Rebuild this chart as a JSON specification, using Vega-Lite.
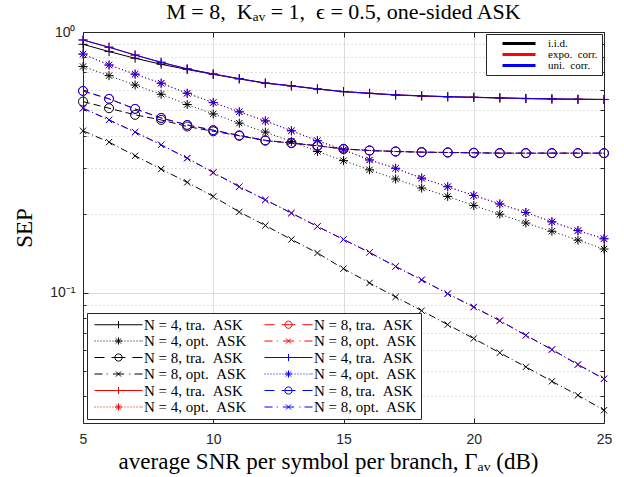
{
"$schema": "https://vega.github.io/schema/vega-lite/v6.json",
"width": 521, "height": 391,
"autosize": {"type": "none"},
"padding": {"left": 83, "top": 32, "right": 20, "bottom": 54},
"background": "white",
"title": {"text": "M = 8,\u2002Kₐᵥ = 1,\u2002ϵ = 0.5, one-sided ASK", "font": "Liberation Serif", "fontSize": 22, "fontWeight": "normal", "color": "#000000", "offset": 1, "anchor": "middle", "frame": "group"},
"config": {"view": {"stroke": null}},
"data": {"values": [
{"x":5,"y":0.897,"c":"i.i.d.","n":4,"t":"tra"},{"x":6,"y":0.841,"c":"i.i.d.","n":4,"t":"tra"},{"x":7,"y":0.793,"c":"i.i.d.","n":4,"t":"tra"},{"x":8,"y":0.752,"c":"i.i.d.","n":4,"t":"tra"},{"x":9,"y":0.718,"c":"i.i.d.","n":4,"t":"tra"},{"x":10,"y":0.688,"c":"i.i.d.","n":4,"t":"tra"},{"x":11,"y":0.661,"c":"i.i.d.","n":4,"t":"tra"},{"x":12,"y":0.636,"c":"i.i.d.","n":4,"t":"tra"},{"x":13,"y":0.621,"c":"i.i.d.","n":4,"t":"tra"},{"x":14,"y":0.604,"c":"i.i.d.","n":4,"t":"tra"},{"x":15,"y":0.590,"c":"i.i.d.","n":4,"t":"tra"},{"x":16,"y":0.581,"c":"i.i.d.","n":4,"t":"tra"},{"x":17,"y":0.573,"c":"i.i.d.","n":4,"t":"tra"},{"x":18,"y":0.568,"c":"i.i.d.","n":4,"t":"tra"},{"x":19,"y":0.564,"c":"i.i.d.","n":4,"t":"tra"},{"x":20,"y":0.561,"c":"i.i.d.","n":4,"t":"tra"},{"x":21,"y":0.558,"c":"i.i.d.","n":4,"t":"tra"},{"x":22,"y":0.555,"c":"i.i.d.","n":4,"t":"tra"},{"x":23,"y":0.553,"c":"i.i.d.","n":4,"t":"tra"},{"x":24,"y":0.552,"c":"i.i.d.","n":4,"t":"tra"},{"x":25,"y":0.551,"c":"i.i.d.","n":4,"t":"tra"},
{"x":5,"y":0.737,"c":"i.i.d.","n":4,"t":"opt"},{"x":6,"y":0.680,"c":"i.i.d.","n":4,"t":"opt"},{"x":7,"y":0.626,"c":"i.i.d.","n":4,"t":"opt"},{"x":8,"y":0.577,"c":"i.i.d.","n":4,"t":"opt"},{"x":9,"y":0.527,"c":"i.i.d.","n":4,"t":"opt"},{"x":10,"y":0.485,"c":"i.i.d.","n":4,"t":"opt"},{"x":11,"y":0.447,"c":"i.i.d.","n":4,"t":"opt"},{"x":12,"y":0.413,"c":"i.i.d.","n":4,"t":"opt"},{"x":13,"y":0.380,"c":"i.i.d.","n":4,"t":"opt"},{"x":14,"y":0.348,"c":"i.i.d.","n":4,"t":"opt"},{"x":15,"y":0.321,"c":"i.i.d.","n":4,"t":"opt"},{"x":16,"y":0.296,"c":"i.i.d.","n":4,"t":"opt"},{"x":17,"y":0.273,"c":"i.i.d.","n":4,"t":"opt"},{"x":18,"y":0.252,"c":"i.i.d.","n":4,"t":"opt"},{"x":19,"y":0.234,"c":"i.i.d.","n":4,"t":"opt"},{"x":20,"y":0.216,"c":"i.i.d.","n":4,"t":"opt"},{"x":21,"y":0.200,"c":"i.i.d.","n":4,"t":"opt"},{"x":22,"y":0.185,"c":"i.i.d.","n":4,"t":"opt"},{"x":23,"y":0.172,"c":"i.i.d.","n":4,"t":"opt"},{"x":24,"y":0.159,"c":"i.i.d.","n":4,"t":"opt"},{"x":25,"y":0.147,"c":"i.i.d.","n":4,"t":"opt"},
{"x":5,"y":0.541,"c":"i.i.d.","n":8,"t":"tra"},{"x":6,"y":0.510,"c":"i.i.d.","n":8,"t":"tra"},{"x":7,"y":0.481,"c":"i.i.d.","n":8,"t":"tra"},{"x":8,"y":0.460,"c":"i.i.d.","n":8,"t":"tra"},{"x":9,"y":0.434,"c":"i.i.d.","n":8,"t":"tra"},{"x":10,"y":0.416,"c":"i.i.d.","n":8,"t":"tra"},{"x":11,"y":0.400,"c":"i.i.d.","n":8,"t":"tra"},{"x":12,"y":0.383,"c":"i.i.d.","n":8,"t":"tra"},{"x":13,"y":0.375,"c":"i.i.d.","n":8,"t":"tra"},{"x":14,"y":0.366,"c":"i.i.d.","n":8,"t":"tra"},{"x":15,"y":0.356,"c":"i.i.d.","n":8,"t":"tra"},{"x":16,"y":0.351,"c":"i.i.d.","n":8,"t":"tra"},{"x":17,"y":0.348,"c":"i.i.d.","n":8,"t":"tra"},{"x":18,"y":0.346,"c":"i.i.d.","n":8,"t":"tra"},{"x":19,"y":0.345,"c":"i.i.d.","n":8,"t":"tra"},{"x":20,"y":0.344,"c":"i.i.d.","n":8,"t":"tra"},{"x":21,"y":0.343,"c":"i.i.d.","n":8,"t":"tra"},{"x":22,"y":0.343,"c":"i.i.d.","n":8,"t":"tra"},{"x":23,"y":0.343,"c":"i.i.d.","n":8,"t":"tra"},{"x":24,"y":0.343,"c":"i.i.d.","n":8,"t":"tra"},{"x":25,"y":0.343,"c":"i.i.d.","n":8,"t":"tra"},
{"x":5,"y":0.418,"c":"i.i.d.","n":8,"t":"opt"},{"x":6,"y":0.378,"c":"i.i.d.","n":8,"t":"opt"},{"x":7,"y":0.335,"c":"i.i.d.","n":8,"t":"opt"},{"x":8,"y":0.298,"c":"i.i.d.","n":8,"t":"opt"},{"x":9,"y":0.265,"c":"i.i.d.","n":8,"t":"opt"},{"x":10,"y":0.234,"c":"i.i.d.","n":8,"t":"opt"},{"x":11,"y":0.204,"c":"i.i.d.","n":8,"t":"opt"},{"x":12,"y":0.181,"c":"i.i.d.","n":8,"t":"opt"},{"x":13,"y":0.160,"c":"i.i.d.","n":8,"t":"opt"},{"x":14,"y":0.142,"c":"i.i.d.","n":8,"t":"opt"},{"x":15,"y":0.1236,"c":"i.i.d.","n":8,"t":"opt"},{"x":16,"y":0.109,"c":"i.i.d.","n":8,"t":"opt"},{"x":17,"y":0.0963,"c":"i.i.d.","n":8,"t":"opt"},{"x":18,"y":0.0853,"c":"i.i.d.","n":8,"t":"opt"},{"x":19,"y":0.0754,"c":"i.i.d.","n":8,"t":"opt"},{"x":20,"y":0.0667,"c":"i.i.d.","n":8,"t":"opt"},{"x":21,"y":0.0588,"c":"i.i.d.","n":8,"t":"opt"},{"x":22,"y":0.0519,"c":"i.i.d.","n":8,"t":"opt"},{"x":23,"y":0.0457,"c":"i.i.d.","n":8,"t":"opt"},{"x":24,"y":0.0404,"c":"i.i.d.","n":8,"t":"opt"},{"x":25,"y":0.0354,"c":"i.i.d.","n":8,"t":"opt"},
{"x":5,"y":0.932,"c":"expo. corr.","n":4,"t":"tra"},{"x":6,"y":0.874,"c":"expo. corr.","n":4,"t":"tra"},{"x":7,"y":0.816,"c":"expo. corr.","n":4,"t":"tra"},{"x":8,"y":0.765,"c":"expo. corr.","n":4,"t":"tra"},{"x":9,"y":0.722,"c":"expo. corr.","n":4,"t":"tra"},{"x":10,"y":0.690,"c":"expo. corr.","n":4,"t":"tra"},{"x":11,"y":0.662,"c":"expo. corr.","n":4,"t":"tra"},{"x":12,"y":0.637,"c":"expo. corr.","n":4,"t":"tra"},{"x":13,"y":0.622,"c":"expo. corr.","n":4,"t":"tra"},{"x":14,"y":0.605,"c":"expo. corr.","n":4,"t":"tra"},{"x":15,"y":0.591,"c":"expo. corr.","n":4,"t":"tra"},{"x":16,"y":0.582,"c":"expo. corr.","n":4,"t":"tra"},{"x":17,"y":0.574,"c":"expo. corr.","n":4,"t":"tra"},{"x":18,"y":0.569,"c":"expo. corr.","n":4,"t":"tra"},{"x":19,"y":0.565,"c":"expo. corr.","n":4,"t":"tra"},{"x":20,"y":0.562,"c":"expo. corr.","n":4,"t":"tra"},{"x":21,"y":0.559,"c":"expo. corr.","n":4,"t":"tra"},{"x":22,"y":0.556,"c":"expo. corr.","n":4,"t":"tra"},{"x":23,"y":0.554,"c":"expo. corr.","n":4,"t":"tra"},{"x":24,"y":0.552,"c":"expo. corr.","n":4,"t":"tra"},{"x":25,"y":0.551,"c":"expo. corr.","n":4,"t":"tra"},
{"x":5,"y":0.823,"c":"expo. corr.","n":4,"t":"opt"},{"x":6,"y":0.747,"c":"expo. corr.","n":4,"t":"opt"},{"x":7,"y":0.689,"c":"expo. corr.","n":4,"t":"opt"},{"x":8,"y":0.636,"c":"expo. corr.","n":4,"t":"opt"},{"x":9,"y":0.582,"c":"expo. corr.","n":4,"t":"opt"},{"x":10,"y":0.536,"c":"expo. corr.","n":4,"t":"opt"},{"x":11,"y":0.494,"c":"expo. corr.","n":4,"t":"opt"},{"x":12,"y":0.456,"c":"expo. corr.","n":4,"t":"opt"},{"x":13,"y":0.418,"c":"expo. corr.","n":4,"t":"opt"},{"x":14,"y":0.383,"c":"expo. corr.","n":4,"t":"opt"},{"x":15,"y":0.353,"c":"expo. corr.","n":4,"t":"opt"},{"x":16,"y":0.323,"c":"expo. corr.","n":4,"t":"opt"},{"x":17,"y":0.300,"c":"expo. corr.","n":4,"t":"opt"},{"x":18,"y":0.275,"c":"expo. corr.","n":4,"t":"opt"},{"x":19,"y":0.255,"c":"expo. corr.","n":4,"t":"opt"},{"x":20,"y":0.236,"c":"expo. corr.","n":4,"t":"opt"},{"x":21,"y":0.219,"c":"expo. corr.","n":4,"t":"opt"},{"x":22,"y":0.203,"c":"expo. corr.","n":4,"t":"opt"},{"x":23,"y":0.187,"c":"expo. corr.","n":4,"t":"opt"},{"x":24,"y":0.173,"c":"expo. corr.","n":4,"t":"opt"},{"x":25,"y":0.161,"c":"expo. corr.","n":4,"t":"opt"},
{"x":5,"y":0.594,"c":"expo. corr.","n":8,"t":"tra"},{"x":6,"y":0.554,"c":"expo. corr.","n":8,"t":"tra"},{"x":7,"y":0.507,"c":"expo. corr.","n":8,"t":"tra"},{"x":8,"y":0.468,"c":"expo. corr.","n":8,"t":"tra"},{"x":9,"y":0.440,"c":"expo. corr.","n":8,"t":"tra"},{"x":10,"y":0.420,"c":"expo. corr.","n":8,"t":"tra"},{"x":11,"y":0.401,"c":"expo. corr.","n":8,"t":"tra"},{"x":12,"y":0.384,"c":"expo. corr.","n":8,"t":"tra"},{"x":13,"y":0.375,"c":"expo. corr.","n":8,"t":"tra"},{"x":14,"y":0.366,"c":"expo. corr.","n":8,"t":"tra"},{"x":15,"y":0.356,"c":"expo. corr.","n":8,"t":"tra"},{"x":16,"y":0.351,"c":"expo. corr.","n":8,"t":"tra"},{"x":17,"y":0.348,"c":"expo. corr.","n":8,"t":"tra"},{"x":18,"y":0.346,"c":"expo. corr.","n":8,"t":"tra"},{"x":19,"y":0.345,"c":"expo. corr.","n":8,"t":"tra"},{"x":20,"y":0.344,"c":"expo. corr.","n":8,"t":"tra"},{"x":21,"y":0.343,"c":"expo. corr.","n":8,"t":"tra"},{"x":22,"y":0.343,"c":"expo. corr.","n":8,"t":"tra"},{"x":23,"y":0.343,"c":"expo. corr.","n":8,"t":"tra"},{"x":24,"y":0.343,"c":"expo. corr.","n":8,"t":"tra"},{"x":25,"y":0.343,"c":"expo. corr.","n":8,"t":"tra"},
{"x":5,"y":0.510,"c":"expo. corr.","n":8,"t":"opt"},{"x":6,"y":0.460,"c":"expo. corr.","n":8,"t":"opt"},{"x":7,"y":0.413,"c":"expo. corr.","n":8,"t":"opt"},{"x":8,"y":0.369,"c":"expo. corr.","n":8,"t":"opt"},{"x":9,"y":0.328,"c":"expo. corr.","n":8,"t":"opt"},{"x":10,"y":0.289,"c":"expo. corr.","n":8,"t":"opt"},{"x":11,"y":0.255,"c":"expo. corr.","n":8,"t":"opt"},{"x":12,"y":0.227,"c":"expo. corr.","n":8,"t":"opt"},{"x":13,"y":0.202,"c":"expo. corr.","n":8,"t":"opt"},{"x":14,"y":0.1795,"c":"expo. corr.","n":8,"t":"opt"},{"x":15,"y":0.160,"c":"expo. corr.","n":8,"t":"opt"},{"x":16,"y":0.1427,"c":"expo. corr.","n":8,"t":"opt"},{"x":17,"y":0.126,"c":"expo. corr.","n":8,"t":"opt"},{"x":18,"y":0.112,"c":"expo. corr.","n":8,"t":"opt"},{"x":19,"y":0.0991,"c":"expo. corr.","n":8,"t":"opt"},{"x":20,"y":0.0881,"c":"expo. corr.","n":8,"t":"opt"},{"x":21,"y":0.0781,"c":"expo. corr.","n":8,"t":"opt"},{"x":22,"y":0.0686,"c":"expo. corr.","n":8,"t":"opt"},{"x":23,"y":0.0605,"c":"expo. corr.","n":8,"t":"opt"},{"x":24,"y":0.053,"c":"expo. corr.","n":8,"t":"opt"},{"x":25,"y":0.0467,"c":"expo. corr.","n":8,"t":"opt"},
{"x":5,"y":0.932,"c":"uni. corr.","n":4,"t":"tra"},{"x":6,"y":0.874,"c":"uni. corr.","n":4,"t":"tra"},{"x":7,"y":0.816,"c":"uni. corr.","n":4,"t":"tra"},{"x":8,"y":0.765,"c":"uni. corr.","n":4,"t":"tra"},{"x":9,"y":0.722,"c":"uni. corr.","n":4,"t":"tra"},{"x":10,"y":0.690,"c":"uni. corr.","n":4,"t":"tra"},{"x":11,"y":0.662,"c":"uni. corr.","n":4,"t":"tra"},{"x":12,"y":0.637,"c":"uni. corr.","n":4,"t":"tra"},{"x":13,"y":0.622,"c":"uni. corr.","n":4,"t":"tra"},{"x":14,"y":0.605,"c":"uni. corr.","n":4,"t":"tra"},{"x":15,"y":0.591,"c":"uni. corr.","n":4,"t":"tra"},{"x":16,"y":0.582,"c":"uni. corr.","n":4,"t":"tra"},{"x":17,"y":0.574,"c":"uni. corr.","n":4,"t":"tra"},{"x":18,"y":0.569,"c":"uni. corr.","n":4,"t":"tra"},{"x":19,"y":0.565,"c":"uni. corr.","n":4,"t":"tra"},{"x":20,"y":0.562,"c":"uni. corr.","n":4,"t":"tra"},{"x":21,"y":0.559,"c":"uni. corr.","n":4,"t":"tra"},{"x":22,"y":0.556,"c":"uni. corr.","n":4,"t":"tra"},{"x":23,"y":0.554,"c":"uni. corr.","n":4,"t":"tra"},{"x":24,"y":0.552,"c":"uni. corr.","n":4,"t":"tra"},{"x":25,"y":0.551,"c":"uni. corr.","n":4,"t":"tra"},
{"x":5,"y":0.823,"c":"uni. corr.","n":4,"t":"opt"},{"x":6,"y":0.747,"c":"uni. corr.","n":4,"t":"opt"},{"x":7,"y":0.689,"c":"uni. corr.","n":4,"t":"opt"},{"x":8,"y":0.636,"c":"uni. corr.","n":4,"t":"opt"},{"x":9,"y":0.582,"c":"uni. corr.","n":4,"t":"opt"},{"x":10,"y":0.536,"c":"uni. corr.","n":4,"t":"opt"},{"x":11,"y":0.494,"c":"uni. corr.","n":4,"t":"opt"},{"x":12,"y":0.456,"c":"uni. corr.","n":4,"t":"opt"},{"x":13,"y":0.418,"c":"uni. corr.","n":4,"t":"opt"},{"x":14,"y":0.383,"c":"uni. corr.","n":4,"t":"opt"},{"x":15,"y":0.353,"c":"uni. corr.","n":4,"t":"opt"},{"x":16,"y":0.323,"c":"uni. corr.","n":4,"t":"opt"},{"x":17,"y":0.300,"c":"uni. corr.","n":4,"t":"opt"},{"x":18,"y":0.275,"c":"uni. corr.","n":4,"t":"opt"},{"x":19,"y":0.255,"c":"uni. corr.","n":4,"t":"opt"},{"x":20,"y":0.236,"c":"uni. corr.","n":4,"t":"opt"},{"x":21,"y":0.219,"c":"uni. corr.","n":4,"t":"opt"},{"x":22,"y":0.203,"c":"uni. corr.","n":4,"t":"opt"},{"x":23,"y":0.187,"c":"uni. corr.","n":4,"t":"opt"},{"x":24,"y":0.173,"c":"uni. corr.","n":4,"t":"opt"},{"x":25,"y":0.161,"c":"uni. corr.","n":4,"t":"opt"},
{"x":5,"y":0.594,"c":"uni. corr.","n":8,"t":"tra"},{"x":6,"y":0.554,"c":"uni. corr.","n":8,"t":"tra"},{"x":7,"y":0.507,"c":"uni. corr.","n":8,"t":"tra"},{"x":8,"y":0.468,"c":"uni. corr.","n":8,"t":"tra"},{"x":9,"y":0.440,"c":"uni. corr.","n":8,"t":"tra"},{"x":10,"y":0.420,"c":"uni. corr.","n":8,"t":"tra"},{"x":11,"y":0.401,"c":"uni. corr.","n":8,"t":"tra"},{"x":12,"y":0.384,"c":"uni. corr.","n":8,"t":"tra"},{"x":13,"y":0.375,"c":"uni. corr.","n":8,"t":"tra"},{"x":14,"y":0.366,"c":"uni. corr.","n":8,"t":"tra"},{"x":15,"y":0.356,"c":"uni. corr.","n":8,"t":"tra"},{"x":16,"y":0.351,"c":"uni. corr.","n":8,"t":"tra"},{"x":17,"y":0.348,"c":"uni. corr.","n":8,"t":"tra"},{"x":18,"y":0.346,"c":"uni. corr.","n":8,"t":"tra"},{"x":19,"y":0.345,"c":"uni. corr.","n":8,"t":"tra"},{"x":20,"y":0.344,"c":"uni. corr.","n":8,"t":"tra"},{"x":21,"y":0.343,"c":"uni. corr.","n":8,"t":"tra"},{"x":22,"y":0.343,"c":"uni. corr.","n":8,"t":"tra"},{"x":23,"y":0.343,"c":"uni. corr.","n":8,"t":"tra"},{"x":24,"y":0.343,"c":"uni. corr.","n":8,"t":"tra"},{"x":25,"y":0.343,"c":"uni. corr.","n":8,"t":"tra"},
{"x":5,"y":0.510,"c":"uni. corr.","n":8,"t":"opt"},{"x":6,"y":0.460,"c":"uni. corr.","n":8,"t":"opt"},{"x":7,"y":0.413,"c":"uni. corr.","n":8,"t":"opt"},{"x":8,"y":0.369,"c":"uni. corr.","n":8,"t":"opt"},{"x":9,"y":0.328,"c":"uni. corr.","n":8,"t":"opt"},{"x":10,"y":0.289,"c":"uni. corr.","n":8,"t":"opt"},{"x":11,"y":0.255,"c":"uni. corr.","n":8,"t":"opt"},{"x":12,"y":0.227,"c":"uni. corr.","n":8,"t":"opt"},{"x":13,"y":0.202,"c":"uni. corr.","n":8,"t":"opt"},{"x":14,"y":0.1795,"c":"uni. corr.","n":8,"t":"opt"},{"x":15,"y":0.160,"c":"uni. corr.","n":8,"t":"opt"},{"x":16,"y":0.1427,"c":"uni. corr.","n":8,"t":"opt"},{"x":17,"y":0.126,"c":"uni. corr.","n":8,"t":"opt"},{"x":18,"y":0.112,"c":"uni. corr.","n":8,"t":"opt"},{"x":19,"y":0.0991,"c":"uni. corr.","n":8,"t":"opt"},{"x":20,"y":0.0881,"c":"uni. corr.","n":8,"t":"opt"},{"x":21,"y":0.0781,"c":"uni. corr.","n":8,"t":"opt"},{"x":22,"y":0.0686,"c":"uni. corr.","n":8,"t":"opt"},{"x":23,"y":0.0605,"c":"uni. corr.","n":8,"t":"opt"},{"x":24,"y":0.053,"c":"uni. corr.","n":8,"t":"opt"},{"x":25,"y":0.0467,"c":"uni. corr.","n":8,"t":"opt"}
]},
"transform": [{"calculate": "datum.c + '|N = ' + datum.n + ', ' + datum.t + '. ASK'", "as": "s"}],
"resolve": {"axis": {"x": "independent", "y": "independent"}},
"layer": [
{"transform": [{"filter": "datum.x > 100"}],
 "mark": {"type": "point", "filled": false, "strokeWidth": 1, "opacity": 1},
 "encoding": {
  "x": {"field": "x", "type": "quantitative", "scale": {"domain": [5, 25], "nice": false, "zero": false}, "axis": {"orient": "top", "values": [5, 10, 15, 20, 25], "tickSize": -5, "tickColor": "#262626", "domainColor": "#262626", "labels": false, "grid": false, "title": null}},
  "y": {"field": "y", "type": "quantitative", "scale": {"type": "log", "domain": [0.031623, 1], "nice": false}, "axis": {"orient": "left", "values": [0.9,0.8,0.7,0.6,0.5,0.4,0.3,0.2,0.09,0.08,0.07,0.06,0.05,0.04], "grid": true, "gridDash": [1, 3], "gridColor": "#bdbdbd", "tickSize": -3, "tickColor": "#262626", "labels": false, "domain": false, "title": null}},
  "stroke": {"field": "s", "type": "nominal",
   "scale": {"domain": ["i.i.d.|N = 4, tra. ASK","i.i.d.|N = 4, opt. ASK","i.i.d.|N = 8, tra. ASK","i.i.d.|N = 8, opt. ASK","expo. corr.|N = 4, tra. ASK","expo. corr.|N = 4, opt. ASK","expo. corr.|N = 8, tra. ASK","expo. corr.|N = 8, opt. ASK","uni. corr.|N = 4, tra. ASK","uni. corr.|N = 4, opt. ASK","uni. corr.|N = 8, tra. ASK","uni. corr.|N = 8, opt. ASK"],
    "range": ["#000000","#000000","#000000","#000000","#ff0000","#ff0000","#ff0000","#ff0000","#0000ff","#0000ff","#0000ff","#0000ff"]},
   "legend": {"title": null, "orient": "bottom-left", "offset": 4, "columns": 2, "symbolSize": 64, "symbolStrokeWidth": 1, "labelOffset": 38, "labelFont": "Liberation Serif", "labelFontSize": 15, "labelColor": "#000000", "labelLimit": 400, "labelExpr": "replace(split(datum.label, '|')[1], ' ASK', '\u2002ASK')", "rowPadding": 0.5, "columnPadding": 14, "padding": 4, "strokeColor": "#262626", "fillColor": "#ffffff"}},
  "shape": {"field": "s", "type": "nominal",
   "scale": {"domain": ["i.i.d.|N = 4, tra. ASK","i.i.d.|N = 4, opt. ASK","i.i.d.|N = 8, tra. ASK","i.i.d.|N = 8, opt. ASK","expo. corr.|N = 4, tra. ASK","expo. corr.|N = 4, opt. ASK","expo. corr.|N = 8, tra. ASK","expo. corr.|N = 8, opt. ASK","uni. corr.|N = 4, tra. ASK","uni. corr.|N = 4, opt. ASK","uni. corr.|N = 8, tra. ASK","uni. corr.|N = 8, opt. ASK"],
    "range": [
     "M-1,0L11,0M5,-0.9L5,0.9",
     "M-1,0L-0.75,0M-0.25,0L0,0M0.5,0L0.75,0M1.25,0L1.5,0M2,0L2.25,0M2.75,0L3,0M3.5,0L3.75,0M4.25,0L4.5,0M5,0L5.25,0M5.75,0L6,0M6.5,0L6.75,0M7.25,0L7.5,0M8,0L8.25,0M8.75,0L9,0M9.5,0L9.75,0M10.25,0L10.5,0M10.75,0L11,0M5,-0.9L5,0.9M4.1,0L5.9,0M4.36,-0.64L5.64,0.64M4.36,0.64L5.64,-0.64",
     "M-1,0L1.5,0M3.25,0L6.75,0M8.5,0L11,0M5.9,0A0.9,0.9,0,1,1,4.1,0A0.9,0.9,0,1,1,5.9,0",
     "M-1,0L1,0M2.05,0L2.3,0M3.6,0L6.4,0M7.7,0L7.95,0M9,0L11,0M4.36,-0.64L5.64,0.64M4.36,0.64L5.64,-0.64",
     "M-1,0L11,0M5,-0.9L5,0.9",
     "M-1,0L-0.75,0M-0.25,0L0,0M0.5,0L0.75,0M1.25,0L1.5,0M2,0L2.25,0M2.75,0L3,0M3.5,0L3.75,0M4.25,0L4.5,0M5,0L5.25,0M5.75,0L6,0M6.5,0L6.75,0M7.25,0L7.5,0M8,0L8.25,0M8.75,0L9,0M9.5,0L9.75,0M10.25,0L10.5,0M10.75,0L11,0M5,-0.9L5,0.9M4.1,0L5.9,0M4.36,-0.64L5.64,0.64M4.36,0.64L5.64,-0.64",
     "M-1,0L1.5,0M3.25,0L6.75,0M8.5,0L11,0M5.9,0A0.9,0.9,0,1,1,4.1,0A0.9,0.9,0,1,1,5.9,0",
     "M-1,0L1,0M2.05,0L2.3,0M3.6,0L6.4,0M7.7,0L7.95,0M9,0L11,0M4.36,-0.64L5.64,0.64M4.36,0.64L5.64,-0.64",
     "M-1,0L11,0M5,-0.9L5,0.9",
     "M-1,0L-0.75,0M-0.25,0L0,0M0.5,0L0.75,0M1.25,0L1.5,0M2,0L2.25,0M2.75,0L3,0M3.5,0L3.75,0M4.25,0L4.5,0M5,0L5.25,0M5.75,0L6,0M6.5,0L6.75,0M7.25,0L7.5,0M8,0L8.25,0M8.75,0L9,0M9.5,0L9.75,0M10.25,0L10.5,0M10.75,0L11,0M5,-0.9L5,0.9M4.1,0L5.9,0M4.36,-0.64L5.64,0.64M4.36,0.64L5.64,-0.64",
     "M-1,0L1.5,0M3.25,0L6.75,0M8.5,0L11,0M5.9,0A0.9,0.9,0,1,1,4.1,0A0.9,0.9,0,1,1,5.9,0",
     "M-1,0L1,0M2.05,0L2.3,0M3.6,0L6.4,0M7.7,0L7.95,0M9,0L11,0M4.36,-0.64L5.64,0.64M4.36,0.64L5.64,-0.64"
    ]},
   "legend": {"title": null, "orient": "bottom-left", "offset": 4, "columns": 2, "symbolSize": 64, "symbolStrokeWidth": 1, "labelOffset": 38, "labelFont": "Liberation Serif", "labelFontSize": 15, "labelColor": "#000000", "labelLimit": 400, "labelExpr": "replace(split(datum.label, '|')[1], ' ASK', '\u2002ASK')", "rowPadding": 0.5, "columnPadding": 14, "padding": 4, "strokeColor": "#262626", "fillColor": "#ffffff"}}
 }},
{"transform": [{"filter": "datum.x > 100"}],
 "mark": {"type": "point", "filled": true, "opacity": 1, "shape": "M-1,-0.375L7.25,-0.375L7.25,0.375L-1,0.375Z"},
 "encoding": {
  "x": {"field": "x", "type": "quantitative", "axis": null},
  "y": {"field": "y", "type": "quantitative", "axis": {"orient": "right", "values": [1,0.9,0.8,0.7,0.6,0.5,0.4,0.3,0.2,0.1,0.09,0.08,0.07,0.06,0.05,0.04], "tickSize": -4, "tickColor": "#262626", "domainColor": "#262626", "labels": false, "grid": false, "title": null}},
  "fill": {"field": "c", "type": "nominal", "scale": {"domain": ["i.i.d.", "expo. corr.", "uni. corr."], "range": ["#000000", "#ff0000", "#0000ff"]},
   "legend": {"title": null, "orient": "top-right", "offset": 2, "direction": "vertical", "symbolType": "M-1,-0.375L7.25,-0.375L7.25,0.375L-1,0.375Z", "symbolSize": 64, "symbolStrokeWidth": 0, "symbolOffset": 11, "labelOffset": 36, "labelFont": "Liberation Serif", "labelFontSize": 11, "labelColor": "#000000", "labelExpr": "replace(datum.label, ' ', '\u2002')", "rowPadding": -2, "padding": 4, "strokeColor": "#262626", "fillColor": "#ffffff"}}
 }},
{"transform": [{"filter": "datum.n == 4 && datum.t == 'tra'"}],
 "mark": {"type": "line", "strokeWidth": 1},
 "encoding": {
  "x": {"field": "x", "type": "quantitative",
   "axis": {"orient": "bottom", "values": [5, 10, 15, 20, 25], "grid": true, "gridColor": "#dcdcdc", "tickSize": -5, "tickColor": "#262626", "domainColor": "#262626", "labelFont": "Liberation Sans", "labelFontSize": 14, "labelColor": "#262626", "labelPadding": 14, "labelFlush": false, "title": "average SNR per symbol per branch, Γₐᵥ (dB)", "titleFont": "Liberation Serif", "titleFontSize": 23, "titleFontWeight": "normal", "titleColor": "#000000", "titlePadding": 4, "titleX": 245, "titleAlign": "center"}},
  "y": {"field": "y", "type": "quantitative",
   "axis": {"orient": "left", "values": [0.1, 1], "grid": true, "gridColor": "#dcdcdc", "tickSize": -5, "tickColor": "#262626", "domainColor": "#262626", "labelExpr": "datum.value > 0.5 ? '10⁰' : '10⁻¹'", "labelFont": "Liberation Sans", "labelFontSize": 14, "labelColor": "#262626", "labelPadding": 13, "title": "SEP", "titleFont": "Liberation Serif", "titleFontSize": 23, "titleFontWeight": "normal", "titleColor": "#000000", "titlePadding": 13}},
  "stroke": {"field": "s", "type": "nominal", "legend": null}
 }},
{"transform": [{"filter": "datum.n == 4 && datum.t == 'opt'"}],
 "mark": {"type": "line", "strokeWidth": 1, "strokeDash": [1, 2.5]},
 "encoding": {"x": {"field": "x", "type": "quantitative", "axis": null}, "y": {"field": "y", "type": "quantitative", "axis": null}, "stroke": {"field": "s", "type": "nominal", "legend": null}}},
{"transform": [{"filter": "datum.n == 8 && datum.t == 'tra'"}],
 "mark": {"type": "line", "strokeWidth": 1, "strokeDash": [7, 4]},
 "encoding": {"x": {"field": "x", "type": "quantitative", "axis": null}, "y": {"field": "y", "type": "quantitative", "axis": null}, "stroke": {"field": "s", "type": "nominal", "legend": null}}},
{"transform": [{"filter": "datum.n == 8 && datum.t == 'opt'"}],
 "mark": {"type": "line", "strokeWidth": 1, "strokeDash": [7, 3, 1, 3]},
 "encoding": {"x": {"field": "x", "type": "quantitative", "axis": null}, "y": {"field": "y", "type": "quantitative", "axis": null}, "stroke": {"field": "s", "type": "nominal", "legend": null}}},
{"transform": [{"filter": "datum.n == 4 && datum.t == 'tra'"}],
 "mark": {"type": "point", "shape": "M-1,0L1,0M0,-1L0,1", "size": 81, "filled": false, "strokeWidth": 1, "opacity": 1},
 "encoding": {"x": {"field": "x", "type": "quantitative", "axis": null}, "y": {"field": "y", "type": "quantitative", "axis": null}, "stroke": {"field": "s", "type": "nominal", "legend": null}}},
{"transform": [{"filter": "datum.n == 4 && datum.t == 'opt'"}],
 "mark": {"type": "point", "shape": "M-1,0L1,0M0,-1L0,1M-0.7,-0.7L0.7,0.7M-0.7,0.7L0.7,-0.7", "size": 81, "filled": false, "strokeWidth": 1, "opacity": 1},
 "encoding": {"x": {"field": "x", "type": "quantitative", "axis": null}, "y": {"field": "y", "type": "quantitative", "axis": null}, "stroke": {"field": "s", "type": "nominal", "legend": null}}},
{"transform": [{"filter": "datum.n == 8 && datum.t == 'tra'"}],
 "mark": {"type": "point", "shape": "M1,0A1,1,0,1,1,-1,0A1,1,0,1,1,1,0Z", "size": 81, "filled": false, "strokeWidth": 1, "opacity": 1},
 "encoding": {"x": {"field": "x", "type": "quantitative", "axis": null}, "y": {"field": "y", "type": "quantitative", "axis": null}, "stroke": {"field": "s", "type": "nominal", "legend": null}}},
{"transform": [{"filter": "datum.n == 8 && datum.t == 'opt'"}],
 "mark": {"type": "point", "shape": "M-0.7,-0.7L0.7,0.7M-0.7,0.7L0.7,-0.7", "size": 81, "filled": false, "strokeWidth": 1, "opacity": 1},
 "encoding": {"x": {"field": "x", "type": "quantitative", "axis": null}, "y": {"field": "y", "type": "quantitative", "axis": null}, "stroke": {"field": "s", "type": "nominal", "legend": null}}}
]
}
